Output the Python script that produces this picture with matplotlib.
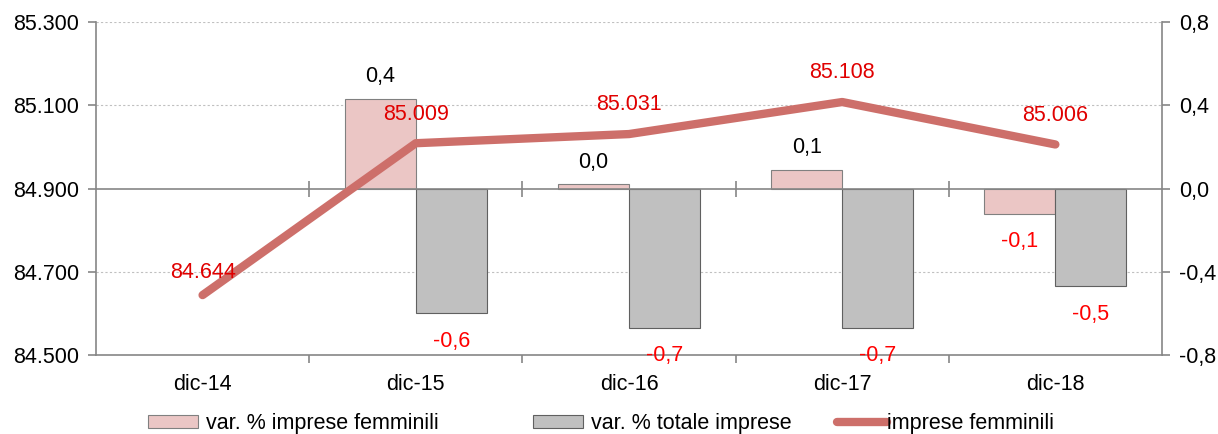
import numpy as np
import matplotlib.pyplot as plt
from matplotlib.patches import Patch
from matplotlib.lines import Line2D

plt.rcParams['font.family'] = ['Liberation Sans', 'DejaVu Sans']

categorie = ['dic-14', 'dic-15', 'dic-16', 'dic-17', 'dic-18']
var_femminili = [np.nan, 0.43, 0.02, 0.09, -0.12]
var_totale = [np.nan, -0.60, -0.67, -0.67, -0.47]
imprese_femminili = [84644, 85009, 85031, 85108, 85006]

col_rosa = '#ebc6c5'
col_grigio = '#c0c0c0'
col_linea = '#cd6f6a'
col_asse = '#868686'
col_rosso = '#e00000'
col_rosso_barre = '#ff0000'
fs = 15.5


def virgola(v):
    return f'{v:.1f}'.replace('.', ',')


def punto(v):
    return f'{v:,.0f}'.replace(',', '.')


fig = plt.figure(figsize=(12.18, 4.34), dpi=100)
ax = fig.add_axes([0.0788, 0.182, 0.8752, 0.767])
x = np.arange(len(categorie))
w = 1 / 3

ax.bar(x - w / 2, var_femminili, w, color=col_rosa, edgecolor='#808080', linewidth=0.8, zorder=2)
ax.bar(x + w / 2, var_totale, w, color=col_grigio, edgecolor='#606060', linewidth=0.8, zorder=2)

ax.set_xlim(-0.5, len(categorie) - 0.5)
ax.set_ylim(-0.8, 0.8)
for g in [-0.4, 0.4, 0.8]:
    ax.axhline(g, color='#c0c0c0', linestyle=(0, (2, 2)), linewidth=0.8, zorder=0)
ax.axhline(0, color=col_asse, linewidth=1.2, zorder=3)
ax.plot(x[:-1] + 0.5, np.zeros(len(x) - 1), linestyle='none', marker='|',
        markersize=12, color=col_asse, markeredgewidth=1.2, zorder=3)

ax.set_xticks(x)
ax.set_xticklabels(categorie)
ax.set_xticks(x[:-1] + 0.5, minor=True)
ax.tick_params(axis='x', which='major', length=0, labelsize=fs, pad=14)
ax.tick_params(axis='x', which='minor', length=6, color=col_asse, width=1.2)

ax.spines['top'].set_visible(False)
for s in ['left', 'right', 'bottom']:
    ax.spines[s].set_color(col_asse)
    ax.spines[s].set_linewidth(1.2)

ax2 = ax.twinx()
ax2.plot(x, imprese_femminili, color=col_linea, linewidth=6, solid_capstyle='round', zorder=4)
ax2.set_ylim(84500, 85300)
ax2.set_yticks([84500, 84700, 84900, 85100, 85300])
ax2.set_yticklabels([punto(v) for v in [84500, 84700, 84900, 85100, 85300]])
ax2.yaxis.tick_left()
ax2.tick_params(axis='y', labelsize=fs, length=6, color=col_asse, width=1.2, pad=6)
for s in ax2.spines.values():
    s.set_visible(False)
for i, (xi, v) in enumerate(zip(x, imprese_femminili)):
    off = 16 if i == 0 else 21
    ax2.annotate(punto(v), (xi, v), xytext=(0, off), textcoords='offset points',
                 ha='center', va='center', fontsize=fs, color=col_rosso, zorder=6)

# etichette delle barre sull'asse gemello, sopra le linee degli assi
trasf = ax.transData
for xi, v in zip(x - w / 2, var_femminili):
    if np.isnan(v):
        continue
    off = 16 if v >= 0 else -20
    ax2.annotate(virgola(v), (xi, v), xycoords=trasf, xytext=(0, off), textcoords='offset points',
                 ha='center', va='center', fontsize=fs, zorder=6, annotation_clip=False,
                 color='black' if v >= 0 else col_rosso_barre)
for xi, v in zip(x + w / 2, var_totale):
    if np.isnan(v):
        continue
    ax2.annotate(virgola(v), (xi, v), xycoords=trasf, xytext=(0, -20), textcoords='offset points',
                 ha='center', va='center', fontsize=fs, color=col_rosso_barre, zorder=6,
                 annotation_clip=False)

# asse destro per le variazioni (dopo twinx, che lo riporta a sinistra)
ax.yaxis.tick_right()
ax.set_yticks([-0.8, -0.4, 0.0, 0.4, 0.8])
ax.set_yticklabels([virgola(v) for v in [-0.8, -0.4, 0.0, 0.4, 0.8]])
ax.tick_params(axis='y', labelsize=fs, length=6, color=col_asse, width=1.2, pad=6)

h1 = Patch(facecolor=col_rosa, edgecolor='#808080', linewidth=0.8)
h2 = Patch(facecolor=col_grigio, edgecolor='#606060', linewidth=0.8)
h3 = Line2D([], [], color=col_linea, linewidth=6, solid_capstyle='round')
voci = [(h1, 'var. % imprese femminili', 148 / 1218, 0.4),
        (h2, 'var. % totale imprese', 533 / 1218, 0.4),
        (h3, 'imprese femminili', 837 / 1218, 0.0)]
for h, testo, xl, pad in voci:
    fig.legend([h], [testo], loc='center left', bbox_to_anchor=(xl, 10 / 434),
               frameon=False, fontsize=fs, handlelength=2.3, handleheight=0.55,
               handletextpad=pad, borderpad=0, borderaxespad=0)

fig.savefig('out.png', dpi=100)
